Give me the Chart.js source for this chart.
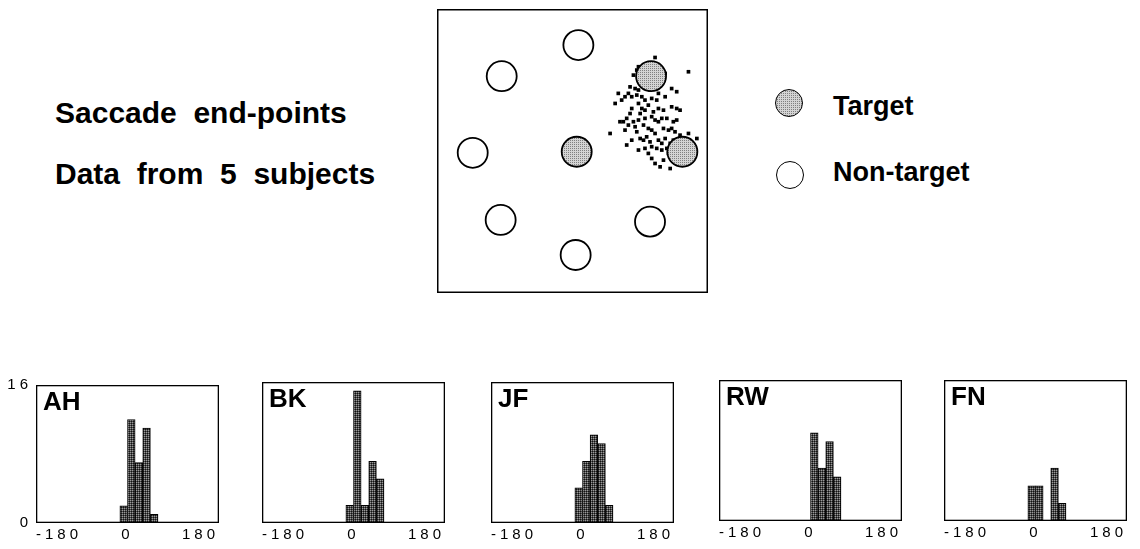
<!DOCTYPE html>
<html>
<head>
<meta charset="utf-8">
<title>Saccade end-points</title>
<script src="https://cdn.jsdelivr.net/npm/chart.js@4.4.1/dist/chart.umd.min.js"></script>
<style>
  html, body { margin: 0; padding: 0; background: #fff; }
  #fig { position: relative; width: 1140px; height: 549px; overflow: hidden;
         font-family: 'Liberation Sans', Arial, Helvetica, sans-serif; color: #000; }
  #fig canvas { position: absolute; }
  .big { position: absolute; font-weight: bold; font-size: 30px; line-height: 30px; white-space: pre; }
  .leg { position: absolute; font-weight: bold; font-size: 27px; line-height: 27px; white-space: pre; }
  .disc { position: absolute; width: 28px; height: 28px; box-sizing: border-box;
          border: 1.7px solid #000; border-radius: 50%; background: #fff; }
</style>
</head>
<body>
<div id="fig">
  <div class="big" style="left:55px; top:98px;">Saccade  end-points</div>
  <div class="big" style="left:55px; top:159px;">Data  from  5  subjects</div>

  <canvas id="scatter" width="271" height="284" style="left:437px; top:9px;"></canvas>

  <div class="disc" id="legTarget" style="left:775px; top:89px;"></div>
  <div class="leg" style="left:833px; top:93px;">Target</div>
  <div class="disc" style="left:776px; top:161px;"></div>
  <div class="leg" style="left:833px; top:159px;">Non-target</div>
</div>

<script>
// ---------- Data: stimulus layout (deg of visual angle) ----------
const nonTargetX = [0.08, -3.57, -4.95, -3.62, -0.05, 3.49];
const nonTargetY = [5.08, 3.60, -0.05, -3.25, -4.92, -3.33];
const targetX = [0, 3.54, 5.03];
const targetY = [0, 3.60, 0];

// saccade end-points
const endX = [3.73,2.94,2.70,2.86,3.25,3.89,3.97,4.21,3.41,3.10,3.02,3.25,3.57,3.89,5.32,
  2.54,2.78,2.94,3.10,3.33,3.49,3.73,3.89,2.46,2.30,1.98,1.83,2.14,2.62,2.86,3.10,3.25,3.57,3.81,4.52,4.76,4.21,
  2.94,3.10,3.25,3.02,3.41,3.65,3.89,4.13,4.52,4.76,4.92,2.62,2.54,2.38,2.22,2.06,2.46,2.30,2.78,2.70,
  2.94,3.18,3.57,3.73,3.89,4.05,4.29,4.60,4.76,3.25,3.41,3.57,3.73,4.13,4.37,4.52,4.68,4.92,2.86,1.59,
  2.38,2.62,3.02,3.18,3.33,3.49,3.89,4.05,4.21,4.29,4.45,4.60,4.05,3.81,3.25,3.41,3.57,3.73,3.97,4.13,
  4.37,4.45,5.72,5.32,5.16,4.92,5.24,5.48,2.94,3.57];
const endY = [4.49,4.05,3.65,3.89,4.13,3.97,3.65,3.73,3.73,3.57,3.33,3.33,3.25,3.33,3.81,
  3.09,3.01,2.94,3.17,3.09,2.94,3.01,2.78,2.78,2.62,2.78,2.30,2.46,2.62,2.70,2.62,2.46,2.54,2.46,3.01,2.86,2.62,
  2.30,2.06,1.98,1.82,2.22,1.90,2.06,1.98,2.14,2.06,1.98,2.06,1.82,1.59,1.43,1.43,1.27,1.03,1.19,1.43,
  1.51,1.27,1.67,1.51,1.43,1.59,1.59,1.43,1.51,1.59,1.11,1.03,0.87,1.11,1.03,1.11,0.95,0.79,0.95,0.87,
  0.32,0.55,0.63,0.55,0.71,0.47,0.55,0.40,0.63,0.16,0.40,0.55,0.08,0.16,0.16,-0.08,-0.32,-0.56,-0.72,-0.40,
  -0.08,-0.80,0.63,0.87,0.24,0.00,-0.08,0.08,0.08,0.24];

// ---------- Data: direction histograms ----------
const binCenters = [-7.5, 7.5, 22.5, 37.5, 52.5];   // 15 deg bins
const xTicks = [-180, 0, 180];
const yTicks = [0, 16];
const subjects = ['AH', 'BK', 'JF', 'RW', 'FN'];
const countsAH = [2, 12, 7, 11, 1];
const countsBK = [2, 15, 2, 7, 5];
const countsJF = [4, 7, 10, 9, 2];
const countsRW = [0, 10, 6, 9, 5];
const countsFN = [4, 4, 0, 6, 2];
const subjectCounts = [countsAH, countsBK, countsJF, countsRW, countsFN];

// where each histogram box sits on the page
const panelLeft = [36, 262, 491, 719, 944];
const panelTop = [382, 382, 382, 380, 380];

const FONT = "'Liberation Sans', Arial, Helvetica, sans-serif";

// small stippled tiles, like the halftone in the print
function stippleTile(base, light, dark) {
  const c = document.createElement('canvas');
  c.width = c.height = 2;
  const g = c.getContext('2d');
  g.fillStyle = base; g.fillRect(0, 0, 2, 2);
  if (light) { g.fillStyle = light; g.fillRect(0, 0, 1, 1); }
  if (dark) { g.fillStyle = dark; g.fillRect(1, 1, 1, 1); }
  return c;
}
const targetTile = stippleTile('#d4d4d4', null, '#808080');
const barTile = stippleTile('#4a4a4a', '#9a9a9a', '#121212');

document.getElementById('legTarget').style.background = 'url(' + targetTile.toDataURL() + ') repeat';

const frame = {
  id: 'frame',
  afterDatasetsDraw(chart, args, opts) {
    const { ctx, chartArea: a } = chart;
    ctx.save();
    ctx.letterSpacing = '0px';
    ctx.strokeStyle = '#000';
    ctx.lineWidth = opts.width || 1.3;
    const h = ctx.lineWidth / 2;
    ctx.strokeRect(a.left + h, a.top + h, a.right - a.left - 2 * h, a.bottom - a.top - 2 * h);
    if (opts.label) {
      ctx.font = 'bold 26px ' + FONT;
      ctx.fillStyle = '#000';
      ctx.textBaseline = 'alphabetic';
      ctx.fillText(opts.label, a.left + 7, a.top + 25);
    }
    ctx.restore();
  }
};

// wide spaced tick digits
const spacing = {
  id: 'spacing',
  beforeDraw(chart) { chart.ctx.letterSpacing = '4px'; }
};

// ---------- Scatter of end-points ----------
const sctx = document.getElementById('scatter').getContext('2d');
const toXY = (xs, ys) => xs.map((x, i) => ({ x, y: ys[i] }));

new Chart(sctx, {
  type: 'scatter',
  data: {
    datasets: [
      { label: 'Non-target', data: toXY(nonTargetX, nonTargetY), pointRadius: 15,
        pointBackgroundColor: '#fff', pointBorderColor: '#000', pointBorderWidth: 1.8 },
      { label: 'Target', data: toXY(targetX, targetY), pointRadius: 15,
        pointBackgroundColor: sctx.createPattern(targetTile, 'repeat'),
        pointBorderColor: '#000', pointBorderWidth: 1.8 },
      { label: 'End-points', data: toXY(endX, endY), pointStyle: 'rect', pointRadius: 2.6,
        pointBackgroundColor: '#000', pointBorderWidth: 0 }
    ]
  },
  options: {
    responsive: false,
    animation: false,
    events: [],
    layout: { padding: 0, autoPadding: false },
    plugins: { legend: { display: false }, tooltip: { enabled: false }, frame: { width: 1.5 } },
    scales: {
      x: { type: 'linear', display: false, min: -6.65, max: 6.25 },
      y: { type: 'linear', display: false, min: -6.73, max: 6.8 }
    }
  },
  plugins: [frame]
});

// ---------- Five direction histograms ----------
const fig = document.getElementById('fig');
subjects.forEach((name, p) => {
  const cv = document.createElement('canvas');
  cv.width = 225; cv.height = 175;
  cv.style.left = (panelLeft[p] - 36) + 'px';
  cv.style.top = (panelTop[p] - 10) + 'px';
  fig.appendChild(cv);
  const ctx = cv.getContext('2d');

  new Chart(ctx, {
    type: 'bar',
    data: {
      datasets: [{
        label: name,
        data: binCenters.map((x, i) => ({ x, y: subjectCounts[p][i] })),
        backgroundColor: ctx.createPattern(barTile, 'repeat'),
        borderColor: '#000',
        borderWidth: 1,
        barPercentage: 1,
        categoryPercentage: 1
      }]
    },
    options: {
      responsive: false,
      animation: false,
      events: [],
      layout: { padding: { top: 10, right: 6, left: 0, bottom: 0 }, autoPadding: false },
      plugins: { legend: { display: false }, tooltip: { enabled: false }, frame: { width: 1.3, label: name } },
      scales: {
        x: {
          type: 'linear', offset: false, min: xTicks[0], max: xTicks[xTicks.length - 1],
          afterBuildTicks: s => { s.ticks = xTicks.map(v => ({ value: v })); },
          afterFit: s => { s.height = 24; },
          grid: { display: false, drawTicks: false, offset: false },
          border: { display: false },
          ticks: { align: 'inner', padding: 3, maxRotation: 0, color: '#000',
                   font: { family: FONT, size: 15 } }
        },
        y: {
          type: 'linear', min: yTicks[0], max: yTicks[yTicks.length - 1],
          afterBuildTicks: s => { s.ticks = yTicks.map(v => ({ value: v })); },
          afterFit: s => { s.width = 36; },
          grid: { display: false, drawTicks: false },
          border: { display: false },
          ticks: { display: p === 0, padding: 4, color: '#000',
                   font: { family: FONT, size: 15 } }
        }
      }
    },
    plugins: [spacing, frame]
  });
});
</script>
</body>
</html>
